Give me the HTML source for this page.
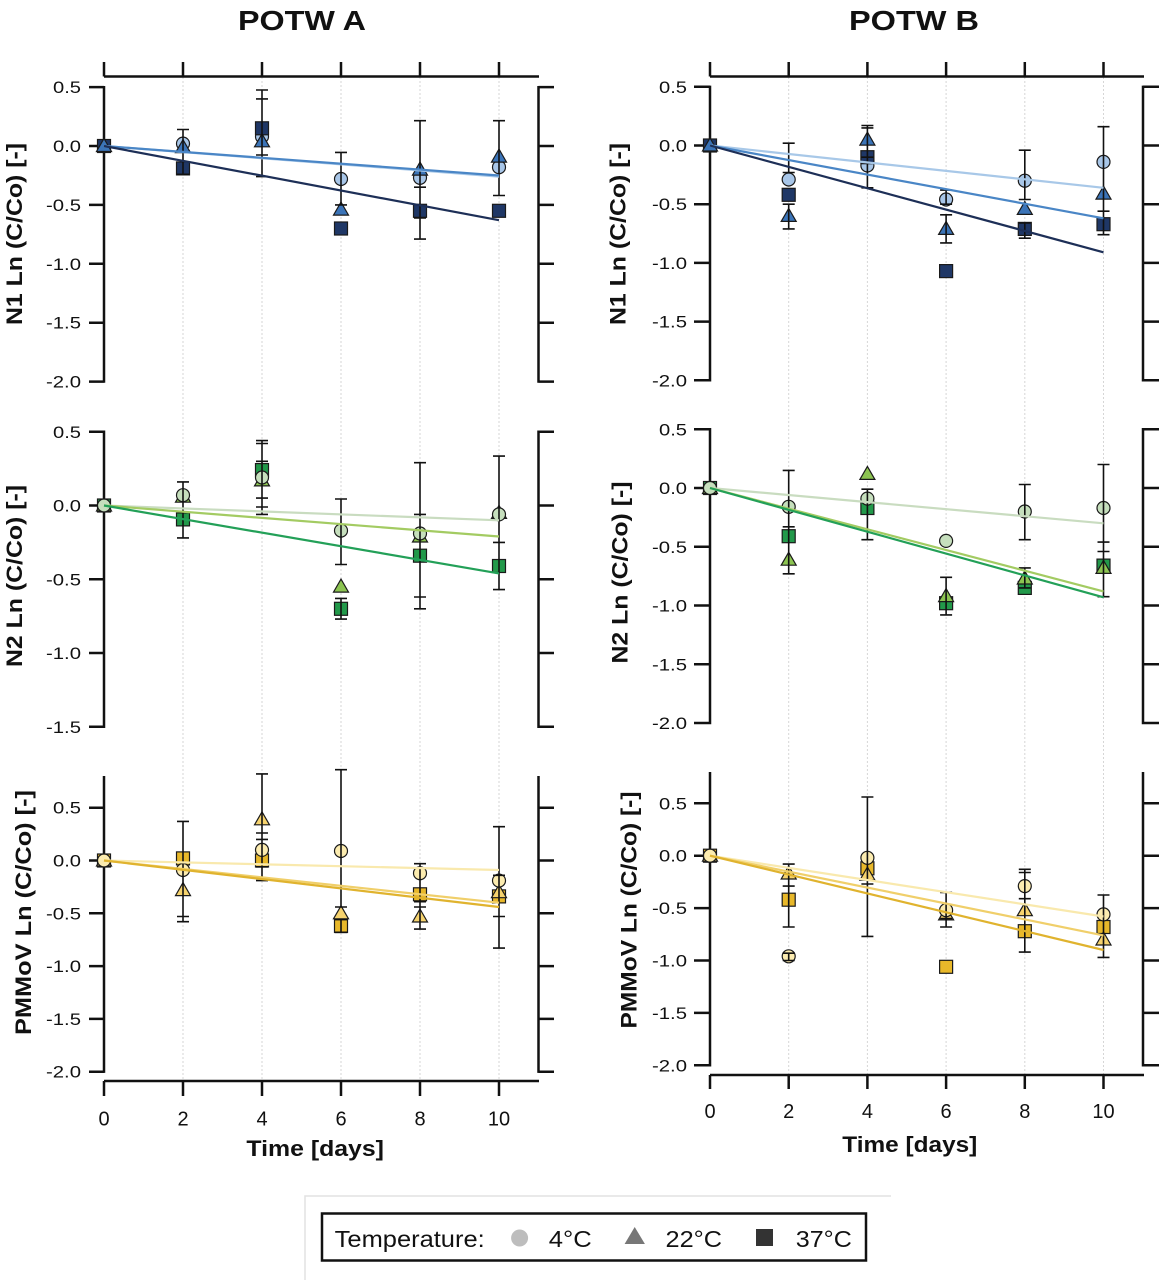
<!DOCTYPE html>
<html><head><meta charset="utf-8"><style>
html,body{margin:0;padding:0;background:#fff;}
svg{display:block;font-family:"Liberation Sans",Arial,sans-serif;}
</style></head><body>
<svg width="1163" height="1280" viewBox="0 0 1163 1280" xmlns="http://www.w3.org/2000/svg">
<rect width="1163" height="1280" fill="#fff"/>

<!-- gridlines -->
<g stroke="#d6d6d6" stroke-width="1" stroke-dasharray="2,2">
<path d="M183 77V1081M262 77V1081M341 77V1081M420 77V1081M499 77V1081"/>
<path d="M788.7 77V1075M867.4 77V1075M946.1 77V1075M1024.8 77V1075M1103.5 77V1075"/>
</g>

<!-- titles -->
<g font-weight="bold" fill="#111" font-size="28" text-anchor="middle">
<text x="302" y="30" textLength="128" lengthAdjust="spacingAndGlyphs">POTW A</text>
<text x="914" y="30" textLength="130" lengthAdjust="spacingAndGlyphs">POTW B</text>
</g>

<!-- axes -->
<g stroke="#111" stroke-width="2.5" fill="none">
<!-- left column -->
<path d="M104 76.5H539M104 76.5V62M183 76.5V62M262 76.5V62M341 76.5V62M420 76.5V62M499 76.5V62"/>
<path d="M104 86V382.8M89 87.1H104M89 146H104M89 204.9H104M89 263.8H104M89 322.7H104M89 381.6H104"/>
<path d="M538.5 86V382.8M538.5 87.1H554M538.5 146H554M538.5 204.9H554M538.5 263.8H554M538.5 322.7H554M538.5 381.6H554"/>
<path d="M104 430.5V728M89 431.75H104M89 505.5H104M89 579.25H104M89 653H104M89 726.75H104"/>
<path d="M538.5 430.5V728M538.5 431.75H554M538.5 505.5H554M538.5 579.25H554M538.5 653H554M538.5 726.75H554"/>
<path d="M104 776V1072.9M89 807.7H104M89 860.5H104M89 913.3H104M89 966.1H104M89 1018.9H104M89 1071.7H104"/>
<path d="M538.5 776V1072.9M538.5 807.7H554M538.5 860.5H554M538.5 913.3H554M538.5 966.1H554M538.5 1018.9H554M538.5 1071.7H554"/>
<path d="M104 1081H539M104 1081V1096M183 1081V1096M262 1081V1096M341 1081V1096M420 1081V1096M499 1081V1096"/>
<!-- right column -->
<path d="M710 76.5H1144M710 76.5V62M788.7 76.5V62M867.4 76.5V62M946.1 76.5V62M1024.8 76.5V62M1103.5 76.5V62"/>
<path d="M710 85.6V381.5M694 86.8H710M694 145.5H710M694 204.2H710M694 262.9H710M694 321.6H710M694 380.3H710"/>
<path d="M1143 85.6V381.5M1143 86.8H1159M1143 145.5H1159M1143 204.2H1159M1143 262.9H1159M1143 321.6H1159M1143 380.3H1159"/>
<path d="M710 428V724.2M694 429.25H710M694 488H710M694 546.75H710M694 605.5H710M694 664.25H710M694 723H710"/>
<path d="M1143 428V724.2M1143 429.25H1159M1143 488H1159M1143 546.75H1159M1143 605.5H1159M1143 664.25H1159M1143 723H1159"/>
<path d="M710 772V1066.5M694 803.3H710M694 855.7H710M694 908.1H710M694 960.5H710M694 1012.9H710M694 1065.3H710"/>
<path d="M1143 772V1066.5M1143 803.3H1159M1143 855.7H1159M1143 908.1H1159M1143 960.5H1159M1143 1012.9H1159M1143 1065.3H1159"/>
<path d="M710 1075H1144M710 1075V1089M788.7 1075V1089M867.4 1075V1089M946.1 1075V1089M1024.8 1075V1089M1103.5 1075V1089"/>
</g>

<!-- y tick labels -->
<g font-size="17" fill="#111" text-anchor="end" lengthAdjust="spacingAndGlyphs">
<text x="81" y="93.1" textLength="28" lengthAdjust="spacingAndGlyphs">0.5</text>
<text x="81" y="152" textLength="28" lengthAdjust="spacingAndGlyphs">0.0</text>
<text x="81" y="210.9" textLength="35" lengthAdjust="spacingAndGlyphs">-0.5</text>
<text x="81" y="269.8" textLength="35" lengthAdjust="spacingAndGlyphs">-1.0</text>
<text x="81" y="328.7" textLength="35" lengthAdjust="spacingAndGlyphs">-1.5</text>
<text x="81" y="387.6" textLength="35" lengthAdjust="spacingAndGlyphs">-2.0</text>

<text x="81" y="437.75" textLength="28" lengthAdjust="spacingAndGlyphs">0.5</text>
<text x="81" y="511.5" textLength="28" lengthAdjust="spacingAndGlyphs">0.0</text>
<text x="81" y="585.25" textLength="35" lengthAdjust="spacingAndGlyphs">-0.5</text>
<text x="81" y="659" textLength="35" lengthAdjust="spacingAndGlyphs">-1.0</text>
<text x="81" y="732.75" textLength="35" lengthAdjust="spacingAndGlyphs">-1.5</text>

<text x="81" y="813.7" textLength="28" lengthAdjust="spacingAndGlyphs">0.5</text>
<text x="81" y="866.5" textLength="28" lengthAdjust="spacingAndGlyphs">0.0</text>
<text x="81" y="919.3" textLength="35" lengthAdjust="spacingAndGlyphs">-0.5</text>
<text x="81" y="972.1" textLength="35" lengthAdjust="spacingAndGlyphs">-1.0</text>
<text x="81" y="1024.9" textLength="35" lengthAdjust="spacingAndGlyphs">-1.5</text>
<text x="81" y="1077.7" textLength="35" lengthAdjust="spacingAndGlyphs">-2.0</text>

<text x="687" y="92.8" textLength="28" lengthAdjust="spacingAndGlyphs">0.5</text>
<text x="687" y="151.5" textLength="28" lengthAdjust="spacingAndGlyphs">0.0</text>
<text x="687" y="210.2" textLength="35" lengthAdjust="spacingAndGlyphs">-0.5</text>
<text x="687" y="268.9" textLength="35" lengthAdjust="spacingAndGlyphs">-1.0</text>
<text x="687" y="327.6" textLength="35" lengthAdjust="spacingAndGlyphs">-1.5</text>
<text x="687" y="386.3" textLength="35" lengthAdjust="spacingAndGlyphs">-2.0</text>

<text x="687" y="435.25" textLength="28" lengthAdjust="spacingAndGlyphs">0.5</text>
<text x="687" y="494" textLength="28" lengthAdjust="spacingAndGlyphs">0.0</text>
<text x="687" y="552.75" textLength="35" lengthAdjust="spacingAndGlyphs">-0.5</text>
<text x="687" y="611.5" textLength="35" lengthAdjust="spacingAndGlyphs">-1.0</text>
<text x="687" y="670.25" textLength="35" lengthAdjust="spacingAndGlyphs">-1.5</text>
<text x="687" y="729" textLength="35" lengthAdjust="spacingAndGlyphs">-2.0</text>

<text x="687" y="809.3" textLength="28" lengthAdjust="spacingAndGlyphs">0.5</text>
<text x="687" y="861.7" textLength="28" lengthAdjust="spacingAndGlyphs">0.0</text>
<text x="687" y="914.1" textLength="35" lengthAdjust="spacingAndGlyphs">-0.5</text>
<text x="687" y="966.5" textLength="35" lengthAdjust="spacingAndGlyphs">-1.0</text>
<text x="687" y="1018.9" textLength="35" lengthAdjust="spacingAndGlyphs">-1.5</text>
<text x="687" y="1071.3" textLength="35" lengthAdjust="spacingAndGlyphs">-2.0</text>
</g>

<!-- x tick labels -->
<g font-size="20" fill="#111" text-anchor="middle">
<text x="104" y="1125.5">0</text><text x="183" y="1125.5">2</text><text x="262" y="1125.5">4</text>
<text x="341" y="1125.5">6</text><text x="420" y="1125.5">8</text><text x="499" y="1125.5">10</text>
<text x="710" y="1118">0</text><text x="788.7" y="1118">2</text><text x="867.4" y="1118">4</text>
<text x="946.1" y="1118">6</text><text x="1024.8" y="1118">8</text><text x="1103.5" y="1118">10</text>
</g>

<!-- axis titles -->
<g font-weight="bold" fill="#111" font-size="22" text-anchor="middle">
<text x="315.2" y="1156" textLength="137.5" lengthAdjust="spacingAndGlyphs">Time [days]</text>
<text x="909.8" y="1152" textLength="135" lengthAdjust="spacingAndGlyphs">Time [days]</text>
<text transform="translate(22,234) rotate(-90)" textLength="182" lengthAdjust="spacingAndGlyphs">N1 Ln (C/Co) [-]</text>
<text transform="translate(22,576) rotate(-90)" textLength="182" lengthAdjust="spacingAndGlyphs">N2 Ln (C/Co) [-]</text>
<text transform="translate(31,912.5) rotate(-90)" textLength="245" lengthAdjust="spacingAndGlyphs">PMMoV Ln (C/Co) [-]</text>
<text transform="translate(625.5,234) rotate(-90)" textLength="182" lengthAdjust="spacingAndGlyphs">N1 Ln (C/Co) [-]</text>
<text transform="translate(627.5,572.5) rotate(-90)" textLength="182" lengthAdjust="spacingAndGlyphs">N2 Ln (C/Co) [-]</text>
<text transform="translate(636.5,910) rotate(-90)" textLength="237" lengthAdjust="spacingAndGlyphs">PMMoV Ln (C/Co) [-]</text>
</g>

<!-- ================= TL: N1 POTW A ================= -->
<g stroke="#1a1a1a" stroke-width="1.2">
<g fill="#a8c6e8">
<circle cx="104" cy="146" r="6.5"/><circle cx="183" cy="143.6" r="6.5"/><circle cx="262" cy="136.6" r="6.5"/>
<circle cx="341" cy="179" r="6.5"/><circle cx="420" cy="177.8" r="6.5"/><circle cx="499" cy="167.2" r="6.5"/>
</g>
<g fill="#1f3766">
<rect x="97.5" y="139.5" width="13" height="13"/><rect x="176.5" y="161.9" width="13" height="13"/><rect x="255.5" y="121.8" width="13" height="13"/>
<rect x="334.5" y="222" width="13" height="13"/><rect x="413.5" y="204.3" width="13" height="13"/><rect x="492.5" y="204.3" width="13" height="13"/>
</g>
<g fill="#3b74b8">
<path transform="translate(104,146)" d="M0-7.5L7.5 5.5H-7.5Z"/><path transform="translate(183,147.2)" d="M0-7.5L7.5 5.5H-7.5Z"/>
<path transform="translate(262,141.3)" d="M0-7.5L7.5 5.5H-7.5Z"/><path transform="translate(341,209.6)" d="M0-7.5L7.5 5.5H-7.5Z"/>
<path transform="translate(420,169.6)" d="M0-7.5L7.5 5.5H-7.5Z"/><path transform="translate(499,156.6)" d="M0-7.5L7.5 5.5H-7.5Z"/>
</g>
</g>
<g stroke="#111" stroke-width="1.6" fill="none">
<path d="M183 174.3V129.5M177 174.3H189M177 129.5H189"/>
<path d="M262 176.6V98.9M256 176.6H268M256 98.9H268M262 155V90M256 155H268M256 90H268"/>
<path d="M341 204.9V152.4M335 204.9H347M335 152.4H347"/>
<path d="M420 239.1V120.7M414 239.1H426M414 120.7H426M414 217.9H426M414 187.2H426"/>
<path d="M499 195.5V120.7M493 195.5H505M493 120.7H505"/>
</g>
<g stroke-width="2.2" fill="none">
<path d="M104 146L499 176.6" stroke="#a8c8e8"/>
<path d="M104 146L499 175.5" stroke="#4a86c6"/>
<path d="M104 146L499 220.2" stroke="#1d2f57"/>
</g>

<!-- ================= TR: N1 POTW B ================= -->
<g stroke="#1a1a1a" stroke-width="1.2">
<g fill="#a8c6e8">
<circle cx="710" cy="145.5" r="6.5"/><circle cx="788.7" cy="179.5" r="6.5"/><circle cx="867.4" cy="165.5" r="6.5"/>
<circle cx="946.1" cy="199.5" r="6.5"/><circle cx="1024.8" cy="180.7" r="6.5"/><circle cx="1103.5" cy="161.9" r="6.5"/>
</g>
<g fill="#1f3766">
<rect x="703.5" y="139" width="13" height="13"/><rect x="782.2" y="188.3" width="13" height="13"/><rect x="860.9" y="150.7" width="13" height="13"/>
<rect x="939.6" y="264.6" width="13" height="13"/><rect x="1018.3" y="222.4" width="13" height="13"/><rect x="1097" y="217.7" width="13" height="13"/>
</g>
<g fill="#3b74b8">
<path transform="translate(710,145.5)" d="M0-7.5L7.5 5.5H-7.5Z"/><path transform="translate(788.7,215.9)" d="M0-7.5L7.5 5.5H-7.5Z"/>
<path transform="translate(867.4,139.6)" d="M0-7.5L7.5 5.5H-7.5Z"/><path transform="translate(946.1,228.9)" d="M0-7.5L7.5 5.5H-7.5Z"/>
<path transform="translate(1024.8,208.9)" d="M0-7.5L7.5 5.5H-7.5Z"/><path transform="translate(1103.5,193.6)" d="M0-7.5L7.5 5.5H-7.5Z"/>
</g>
</g>
<g stroke="#111" stroke-width="1.6" fill="none">
<path d="M788.7 172.5V143.2M782.7 172.5H794.7M782.7 143.2H794.7M788.7 228.9V204.2M782.7 228.9H794.7M782.7 204.2H794.7"/>
<path d="M867.4 187.8V125.5M861.4 187.8H873.4M861.4 125.5H873.4M861.4 157.2H873.4M861.4 127.9H873.4"/>
<path d="M946.1 204.2V190.1M940.1 204.2H952.1M940.1 190.1H952.1M946.1 242.9V214.8M940.1 242.9H952.1M940.1 214.8H952.1"/>
<path d="M1024.8 199.5V150.2M1018.8 199.5H1030.8M1018.8 150.2H1030.8M1024.8 238.2V223M1018.8 238.2H1030.8M1018.8 223H1030.8"/>
<path d="M1103.5 234.7V126.7M1097.5 211.2H1109.5M1097.5 126.7H1109.5M1097.5 234.7H1109.5"/>
</g>
<g stroke-width="2.2" fill="none">
<path d="M710 145.5L1103.5 187.8" stroke="#a8c8e8"/>
<path d="M710 145.5L1103.5 218.3" stroke="#4a86c6"/>
<path d="M710 145.5L1103.5 252.3" stroke="#1d2f57"/>
</g>

<!-- ================= ML: N2 POTW A ================= -->
<g stroke="#1a1a1a" stroke-width="1.2">
<g fill="#22994a">
<rect x="97.5" y="499" width="13" height="13"/><rect x="176.5" y="512.9" width="13" height="13"/><rect x="255.5" y="463.6" width="13" height="13"/>
<rect x="334.5" y="602.3" width="13" height="13"/><rect x="413.5" y="549.2" width="13" height="13"/><rect x="492.5" y="559.5" width="13" height="13"/>
</g>
<g fill="#8cc451">
<path transform="translate(104,505.5)" d="M0-7.5L7.5 5.5H-7.5Z"/><path transform="translate(183,496.7)" d="M0-7.5L7.5 5.5H-7.5Z"/>
<path transform="translate(262,480.4)" d="M0-7.5L7.5 5.5H-7.5Z"/><path transform="translate(341,586.6)" d="M0-7.5L7.5 5.5H-7.5Z"/>
<path transform="translate(420,536.5)" d="M0-7.5L7.5 5.5H-7.5Z"/><path transform="translate(499,512.9)" d="M0-7.5L7.5 5.5H-7.5Z"/>
</g>
<g fill="#c6dfbd">
<circle cx="104" cy="505.5" r="6.5"/><circle cx="183" cy="495.2" r="6.5"/><circle cx="262" cy="477.5" r="6.5"/>
<circle cx="341" cy="530.6" r="6.5"/><circle cx="420" cy="533.5" r="6.5"/><circle cx="499" cy="514.4" r="6.5"/>
</g>
</g>
<g stroke="#111" stroke-width="1.6" fill="none">
<path d="M183 537.9V481.9M177 537.9H189M177 481.9H189"/>
<path d="M262 514.4V440.6M256 514.4H268M256 440.6H268M256 507H268M256 443.5H268M256 498.1H268M256 461.3H268"/>
<path d="M341 564.5V499M335 564.5H347M335 499H347M341 619.1V598.4M335 619.1H347M335 598.4H347"/>
<path d="M420 608.8V462.7M414 608.8H426M414 462.7H426M414 597H426M414 514.4H426"/>
<path d="M499 589.6V456.1M493 589.6H505M493 456.1H505M493 542.4H505"/>
</g>
<g stroke-width="2.2" fill="none">
<path d="M104 505.5L499 520.3" stroke="#c9dcc0"/>
<path d="M104 505.5L499 536.5" stroke="#a3cb62"/>
<path d="M104 505.5L499 573.4" stroke="#23a058"/>
</g>

<!-- ================= MR: N2 POTW B ================= -->
<g stroke="#1a1a1a" stroke-width="1.2">
<g fill="#22994a">
<rect x="703.5" y="481.5" width="13" height="13"/><rect x="782.2" y="529.7" width="13" height="13"/><rect x="860.9" y="501.5" width="13" height="13"/>
<rect x="939.6" y="596.7" width="13" height="13"/><rect x="1018.3" y="581.4" width="13" height="13"/><rect x="1097" y="559.1" width="13" height="13"/>
</g>
<g fill="#8cc451">
<path transform="translate(710,488)" d="M0-7.5L7.5 5.5H-7.5Z"/><path transform="translate(788.7,559.7)" d="M0-7.5L7.5 5.5H-7.5Z"/>
<path transform="translate(867.4,473.9)" d="M0-7.5L7.5 5.5H-7.5Z"/><path transform="translate(946.1,596.1)" d="M0-7.5L7.5 5.5H-7.5Z"/>
<path transform="translate(1024.8,578.5)" d="M0-7.5L7.5 5.5H-7.5Z"/><path transform="translate(1103.5,567.9)" d="M0-7.5L7.5 5.5H-7.5Z"/>
</g>
<g fill="#c6dfbd">
<circle cx="710" cy="488" r="6.5"/><circle cx="788.7" cy="506.8" r="6.5"/><circle cx="867.4" cy="498.6" r="6.5"/>
<circle cx="946.1" cy="540.9" r="6.5"/><circle cx="1024.8" cy="511.5" r="6.5"/><circle cx="1103.5" cy="508" r="6.5"/>
</g>
</g>
<g stroke="#111" stroke-width="1.6" fill="none">
<path d="M788.7 573.8V470.4M782.7 573.8H794.7M782.7 470.4H794.7M782.7 526.8H794.7"/>
<path d="M867.4 539.7V489.2M861.4 539.7H873.4M861.4 489.2H873.4"/>
<path d="M946.1 614.9V577.3M940.1 614.9H952.1M940.1 577.3H952.1"/>
<path d="M1024.8 539.7V484.5M1018.8 539.7H1030.8M1018.8 484.5H1030.8M1024.8 587.9V567.9M1018.8 587.9H1030.8M1018.8 567.9H1030.8"/>
<path d="M1103.5 596.7V464.5M1097.5 596.7H1109.5M1097.5 464.5H1109.5M1097.5 542.1H1109.5M1097.5 551.5H1109.5"/>
</g>
<g stroke-width="2.2" fill="none">
<path d="M710 488L1103.5 523.3" stroke="#c9dcc0"/>
<path d="M710 488L1103.5 591.4" stroke="#a3cb62"/>
<path d="M710 488L1103.5 597.3" stroke="#23a058"/>
</g>

<!-- ================= BL: PMMoV POTW A ================= -->
<g stroke="#1a1a1a" stroke-width="1.2">
<g fill="#e8b82a">
<rect x="97.5" y="854" width="13" height="13"/><rect x="176.5" y="851.9" width="13" height="13"/><rect x="255.5" y="854" width="13" height="13"/>
<rect x="334.5" y="919.5" width="13" height="13"/><rect x="413.5" y="887.8" width="13" height="13"/><rect x="492.5" y="889.9" width="13" height="13"/>
</g>
<g fill="#f6d36e">
<path transform="translate(104,860.5)" d="M0-7.5L7.5 5.5H-7.5Z"/><path transform="translate(183,890.1)" d="M0-7.5L7.5 5.5H-7.5Z"/>
<path transform="translate(262,819.3)" d="M0-7.5L7.5 5.5H-7.5Z"/><path transform="translate(341,913.3)" d="M0-7.5L7.5 5.5H-7.5Z"/>
<path transform="translate(420,916.5)" d="M0-7.5L7.5 5.5H-7.5Z"/><path transform="translate(499,892.2)" d="M0-7.5L7.5 5.5H-7.5Z"/>
</g>
<g fill="#fcecb0">
<circle cx="104" cy="860.5" r="6.5"/><circle cx="183" cy="870" r="6.5"/><circle cx="262" cy="849.9" r="6.5"/>
<circle cx="341" cy="851" r="6.5"/><circle cx="420" cy="873.2" r="6.5"/><circle cx="499" cy="880.6" r="6.5"/>
</g>
</g>
<g stroke="#111" stroke-width="1.6" fill="none">
<path d="M183 921.7V821.4M177 921.7H189M177 821.4H189M177 916.5H189"/>
<path d="M262 880.6V773.9M256 880.6H268M256 773.9H268M256 866.8H268M256 833H268M256 839.4H268"/>
<path d="M341 907V769.7M335 907H347M335 769.7H347M341 932.3V919.6M335 932.3H347M335 919.6H347"/>
<path d="M420 929.1V863.7M414 929.1H426M414 863.7H426M414 907H426M414 901.7H426"/>
<path d="M499 948.1V826.7M493 948.1H505M493 826.7H505M493 916.5H505M493 875.3H505"/>
</g>
<g stroke-width="2.2" fill="none">
<path d="M104 860.5L499 870" stroke="#f9e9ad"/>
<path d="M104 860.5L499 902.7" stroke="#f0cf6a"/>
<path d="M104 860.5L499 907" stroke="#e0b32e"/>
</g>

<!-- ================= BR: PMMoV POTW B ================= -->
<g stroke="#1a1a1a" stroke-width="1.2">
<g fill="#e8b82a">
<rect x="703.5" y="849.2" width="13" height="13"/><rect x="782.2" y="893.2" width="13" height="13"/><rect x="860.9" y="861.8" width="13" height="13"/>
<rect x="939.6" y="960.3" width="13" height="13"/><rect x="1018.3" y="924.7" width="13" height="13"/><rect x="1097" y="920.5" width="13" height="13"/>
</g>
<g fill="#f6d36e">
<path transform="translate(710,855.7)" d="M0-7.5L7.5 5.5H-7.5Z"/><path transform="translate(788.7,873.5)" d="M0-7.5L7.5 5.5H-7.5Z"/>
<path transform="translate(867.4,874.6)" d="M0-7.5L7.5 5.5H-7.5Z"/><path transform="translate(946.1,914.4)" d="M0-7.5L7.5 5.5H-7.5Z"/>
<path transform="translate(1024.8,910.2)" d="M0-7.5L7.5 5.5H-7.5Z"/><path transform="translate(1103.5,939.5)" d="M0-7.5L7.5 5.5H-7.5Z"/>
</g>
<g fill="#fcecb0">
<circle cx="710" cy="855.7" r="6.5"/><circle cx="788.7" cy="956.3" r="6.5"/><circle cx="867.4" cy="857.8" r="6.5"/>
<circle cx="946.1" cy="910.2" r="6.5"/><circle cx="1024.8" cy="886.1" r="6.5"/><circle cx="1103.5" cy="914.4" r="6.5"/>
</g>
</g>
<g stroke="#111" stroke-width="1.6" fill="none">
<path d="M788.7 927V864.1M782.7 927H794.7M782.7 864.1H794.7M782.7 886.1H794.7M788.7 960.5V953.2M782.7 960.5H794.7M782.7 953.2H794.7"/>
<path d="M867.4 936.4V797M861.4 936.4H873.4M861.4 797H873.4M861.4 884H873.4"/>
<path d="M946.1 927V892.4M940.1 927H952.1M940.1 892.4H952.1M940.1 918.6H952.1"/>
<path d="M1024.8 952.1V869.3M1018.8 952.1H1030.8M1018.8 869.3H1030.8M1018.8 898.7H1030.8M1018.8 872.5H1030.8"/>
<path d="M1103.5 957.4V895M1097.5 957.4H1109.5M1097.5 895H1109.5"/>
</g>
<g stroke-width="2.2" fill="none">
<path d="M710 855.7L1103.5 916.5" stroke="#f9e9ad"/>
<path d="M710 855.7L1103.5 935.4" stroke="#f0cf6a"/>
<path d="M710 855.7L1103.5 950" stroke="#e0b32e"/>
</g>

<!-- ================= legend ================= -->
<path d="M305 1280V1196H891" fill="none" stroke="#e2e2e2" stroke-width="1.5"/>
<rect x="322" y="1213.5" width="544" height="47" fill="#fff" stroke="#111" stroke-width="2.5"/>
<g font-size="23" fill="#111">
<text x="334.7" y="1247" textLength="150" lengthAdjust="spacingAndGlyphs">Temperature:</text>
<text x="548.8" y="1247" textLength="43" lengthAdjust="spacingAndGlyphs">4°C</text>
<text x="665.5" y="1247" textLength="56.5" lengthAdjust="spacingAndGlyphs">22°C</text>
<text x="795.8" y="1247" textLength="56" lengthAdjust="spacingAndGlyphs">37°C</text>
</g>
<circle cx="519.6" cy="1238" r="8.5" fill="#bdbdbd"/>
<path d="M624.6 1244H644.9L634.7 1227Z" fill="#777"/>
<rect x="756" y="1229" width="17" height="17" fill="#333"/>
</svg>
</body></html>
